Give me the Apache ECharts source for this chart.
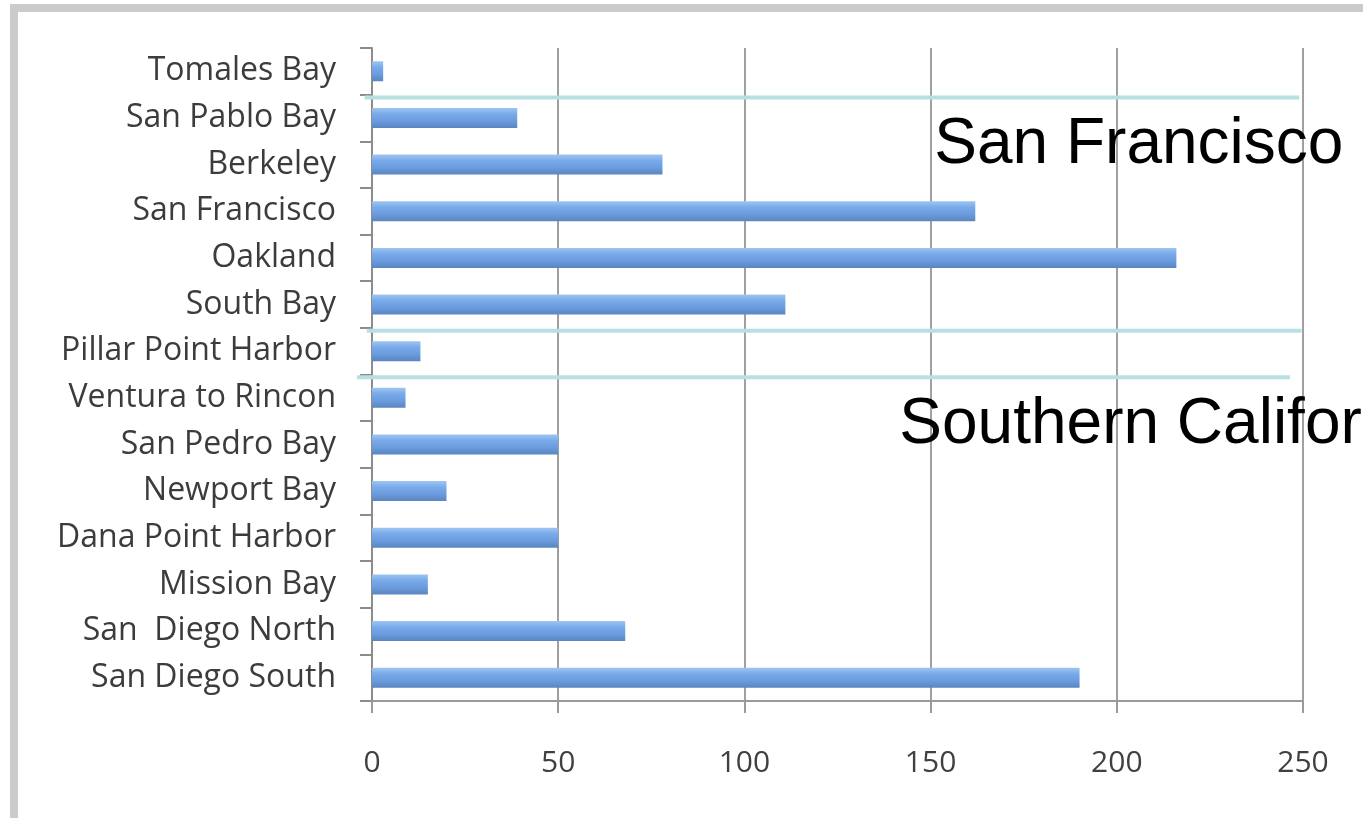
<!DOCTYPE html>
<html>
<head>
<meta charset="utf-8">
<script src="https://cdn.jsdelivr.net/npm/echarts@6/dist/echarts.min.js"></script>
<style>
  html, body { margin: 0; padding: 0; background: #ffffff; }
  #chart { width: 1363px; height: 818px; }
</style>
</head>
<body>
<div id="chart"></div>
<script>
// Sampling sites, north to south
const sites = [
  'Tomales Bay', 'San Pablo Bay', 'Berkeley', 'San Francisco', 'Oakland', 'South Bay',
  'Pillar Point Harbor', 'Ventura to Rincon', 'San Pedro Bay', 'Newport Bay',
  'Dana Point Harbor', 'Mission Bay', 'San  Diego North', 'San Diego South'
];
// Count per site
const counts = [3, 39, 78, 162, 216, 111, 13, 9, 50, 20, 50, 15, 68, 190];
// Value axis range and step
const axisMin = 0;
const axisMax = 250;
const axisStep = 50;
// Region names written beside each group
const regionNames = ['San Francisco', 'Southern California'];

const chart = echarts.init(document.getElementById('chart'), null, { renderer: 'canvas' });

const barFill = new echarts.graphic.LinearGradient(0, 0, 0, 1, [
  { offset: 0, color: '#9ec5f2' },
  { offset: 0.3, color: '#79abea' },
  { offset: 0.65, color: '#6a9cde' },
  { offset: 1, color: '#5a85bf' }
]);

chart.setOption({
  backgroundColor: '#ffffff',
  animation: false,
  grid: { left: 372, right: 60, top: 48, bottom: 117 },
  xAxis: {
    type: 'value',
    min: axisMin,
    max: axisMax,
    interval: axisStep,
    axisLine: { show: true, lineStyle: { color: '#9a9a9a', width: 2 } },
    axisTick: { show: true, length: 12, lineStyle: { color: '#9a9a9a', width: 2 } },
    splitLine: { show: true, lineStyle: { color: '#a0a0a0', width: 2 } },
    axisLabel: { fontFamily: 'Open Sans', fontSize: 30, color: '#404040', margin: 47 }
  },
  yAxis: {
    type: 'category',
    data: sites,
    inverse: true,
    axisLine: { show: true, lineStyle: { color: '#8c8c8c', width: 2 } },
    axisTick: { show: true, length: 12, lineStyle: { color: '#8c8c8c', width: 2 } },
    axisLabel: { fontFamily: 'Open Sans', fontSize: 32, color: '#3c3c3c', margin: 36 }
  },
  series: [{
    type: 'bar',
    data: counts,
    barWidth: 20,
    itemStyle: {
      color: barFill,
      shadowColor: 'rgba(0,0,0,0.28)',
      shadowBlur: 3,
      shadowOffsetY: 3
    }
  }]
});

// Pixel helpers built on the chart's own axes
const px = v => chart.convertToPixel({ xAxisIndex: 0 }, v);
const rowY = i => chart.convertToPixel({ yAxisIndex: 0 }, i);
const gapY = (i, shift) => {
  const a = rowY(i), b = rowY(i + 1);
  return a + (b - a) * (0.5 + shift);
};

// Divider lines separating the regional groups (after row index, value span)
const dividers = [
  { after: 0, from: -2, to: 249 },
  { after: 5, from: -1.4, to: 249.6 },
  { after: 6, from: -4, to: 246.5 }
];
// Region captions (row gap they sit on, starting value)
const captions = [
  { after: 1, at: 151 },
  { after: 7, at: 141.6 }
];

const elements = [
  // window frame
  { type: 'rect', shape: { x: 10, y: 4, width: 1353, height: 8 }, style: { fill: '#cbcbcb' }, z: 10 },
  { type: 'rect', shape: { x: 10, y: 4, width: 8, height: 814 }, style: { fill: '#cbcbcb' }, z: 10 }
];

dividers.forEach(d => {
  const y = gapY(d.after, 0.06);
  elements.push({
    type: 'line',
    shape: { x1: px(d.from), y1: y, x2: px(d.to), y2: y },
    style: { stroke: '#b8dfe2', lineWidth: 4 },
    z: 10
  });
});

captions.forEach((c, i) => {
  elements.push({
    type: 'text',
    x: px(c.at),
    y: gapY(c.after, 0.09),
    style: {
      text: regionNames[i],
      fontFamily: 'Liberation Sans',
      fontSize: 64,
      fill: '#000000',
      align: 'left',
      verticalAlign: 'middle'
    },
    z: 10
  });
});

chart.setOption({ graphic: { elements: elements } });
</script>
</body>
</html>
